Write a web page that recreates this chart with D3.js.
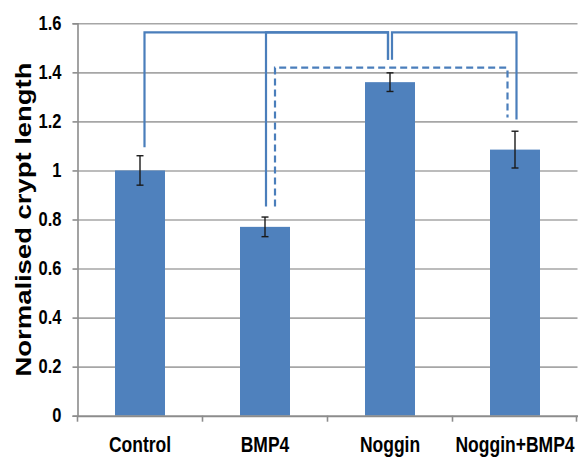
<!DOCTYPE html>
<html>
<head>
<meta charset="utf-8">
<script src="https://cdn.jsdelivr.net/npm/d3@7"></script>
<style>
  body { margin: 0; background: #fff; }
  svg { display: block; }
  .grid line { stroke: #a6a6a6; stroke-width: 1.6; }
  .grid path { display: none; }
  .axis text { font-family: "Liberation Sans", Arial, sans-serif; font-weight: bold; fill: #000; }
</style>
</head>
<body>
<svg width="578" height="458"></svg>
<script>
var categories = ["Control", "BMP4", "Noggin", "Noggin+BMP4"];
var means = [1.0, 0.77, 1.36, 1.085];
var errors = [0.06, 0.04, 0.038, 0.075];
var yTicks = [0, 0.2, 0.4, 0.6, 0.8, 1, 1.2, 1.4, 1.6];
var yTitle = "Normalised crypt length";

// significance brackets: ends on categories, heights in data units
var bracketFrom = ["Control", "BMP4", "Noggin", "BMP4"];
var bracketTo = ["Noggin", "Noggin", "Noggin+BMP4", "Noggin+BMP4"];
var bracketTop = [1.563, 1.563, 1.563, 1.419];
var bracketLeftEnd = [1.095, 0.853, 1.451, 0.853];
var bracketRightEnd = [1.451, 1.451, 1.208, 1.216];
var bracketDashed = [false, false, false, true];

var svg = d3.select("svg");
// note: "top" is taken by window.top, so plot edges get their own names
var plotLeft = 77.5, plotRight = 577.5, plotTop = 23.3, plotBottom = 415.7;
var stretch = 1.22; // the original text is taller than it is wide

var x = d3.scaleBand()
    .domain(categories)
    .range([plotLeft, plotRight])
    .paddingInner(0.6)
    .paddingOuter(0.3);
var y = d3.scaleLinear()
    .domain([0, 1.6])
    .range([plotBottom, plotTop]);

// gridlines
svg.append("g")
    .attr("class", "grid")
    .attr("transform", "translate(" + plotLeft + ",0)")
    .call(d3.axisRight(y).tickValues(yTicks.slice(1)).tickSize(plotRight - plotLeft).tickFormat(""));

// bars
svg.append("g")
    .selectAll("rect")
    .data(means)
    .enter().append("rect")
    .attr("x", function(d, i) { return x(categories[i]); })
    .attr("y", function(d) { return y(d); })
    .attr("width", x.bandwidth())
    .attr("height", function(d) { return y(0) - y(d); })
    .attr("fill", "#4f81bd");

// error bars
var errG = svg.append("g")
    .attr("stroke", "#1a1a1a")
    .attr("stroke-width", 1.4);
means.forEach(function(m, i) {
    var cx = x(categories[i]) + x.bandwidth() / 2;
    errG.append("line").attr("x1", cx).attr("x2", cx).attr("y1", y(m + errors[i])).attr("y2", y(m - errors[i]));
    [m + errors[i], m - errors[i]].forEach(function(v) {
        errG.append("line").attr("x1", cx - 3.5).attr("x2", cx + 3.5).attr("y1", y(v)).attr("y2", y(v));
    });
});

// brackets
var solidShift = {"Control": 4.5, "BMP4": 1, "Noggin": 0, "Noggin+BMP4": 1.5};
var dashShift = {"BMP4": 10, "Noggin+BMP4": -7.5};
var brG = svg.append("g")
    .attr("fill", "none")
    .attr("stroke", "#4a7ebb")
    .attr("stroke-width", 2.2);
bracketFrom.forEach(function(a, i) {
    var b = bracketTo[i];
    var shift = bracketDashed[i] ? dashShift : solidShift;
    var x1 = x(a) + x.bandwidth() / 2 + shift[a];
    var x2 = x(b) + x.bandwidth() / 2 + shift[b];
    if (b === "Noggin") x2 -= 2;
    if (a === "Noggin") x1 += 2;
    var p = d3.path();
    p.moveTo(x1, y(bracketLeftEnd[i]));
    p.lineTo(x1, y(bracketTop[i]));
    p.lineTo(x2, y(bracketTop[i]));
    p.lineTo(x2, y(bracketRightEnd[i]));
    brG.append("path")
        .attr("d", p.toString())
        .attr("stroke-dasharray", bracketDashed[i] ? "7,4" : null);
});

// y axis
var yAxis = svg.append("g")
    .attr("class", "axis")
    .attr("transform", "translate(" + plotLeft + ",0)")
    .call(d3.axisLeft(y).tickValues(yTicks).tickSize(5).tickPadding(11)
        .tickFormat(function(d) { return d3.format("~g")(d); }));
yAxis.select(".domain").attr("stroke", "#8c8c8c").attr("stroke-width", 1.6);
yAxis.selectAll(".tick line").attr("stroke", "#8c8c8c").attr("stroke-width", 1.6);
yAxis.selectAll(".tick text")
    .attr("font-size", 16.5)
    .attr("x", -16)
    .attr("dy", null)
    .attr("y", 6 / stretch)
    .attr("transform", "scale(1," + stretch + ")");

// x axis
var xAxis = svg.append("g")
    .attr("class", "axis")
    .attr("transform", "translate(0," + plotBottom + ")")
    .call(d3.axisBottom(x).tickSize(0).tickPadding(0));
xAxis.select(".domain").attr("stroke", "#8c8c8c").attr("stroke-width", 2);
xAxis.selectAll(".tick text")
    .attr("font-size", 17.5)
    .attr("dy", null)
    .attr("y", 36 / stretch)
    .attr("transform", "scale(1," + stretch + ")");
// category separators
var sepG = svg.append("g").attr("stroke", "#8c8c8c").attr("stroke-width", 1.6);
categories.forEach(function(c, i) {
    var sx = i === 0 ? plotLeft : x(c) - x.step() * x.paddingInner() / 2;
    sepG.append("line").attr("x1", sx).attr("x2", sx).attr("y1", plotBottom).attr("y2", plotBottom + 6);
});
sepG.append("line").attr("x1", plotRight - 1).attr("x2", plotRight - 1).attr("y1", plotBottom).attr("y2", plotBottom + 6);

// y title
svg.append("text")
    .attr("transform", "translate(31," + ((plotTop + plotBottom) / 2) + ") rotate(-90)")
    .attr("text-anchor", "middle")
    .attr("font-family", "Liberation Sans, Arial, sans-serif")
    .attr("font-weight", "bold")
    .attr("font-size", 22)
    .attr("textLength", 314)
    .attr("lengthAdjust", "spacingAndGlyphs")
    .text(yTitle);
</script>
</body>
</html>
